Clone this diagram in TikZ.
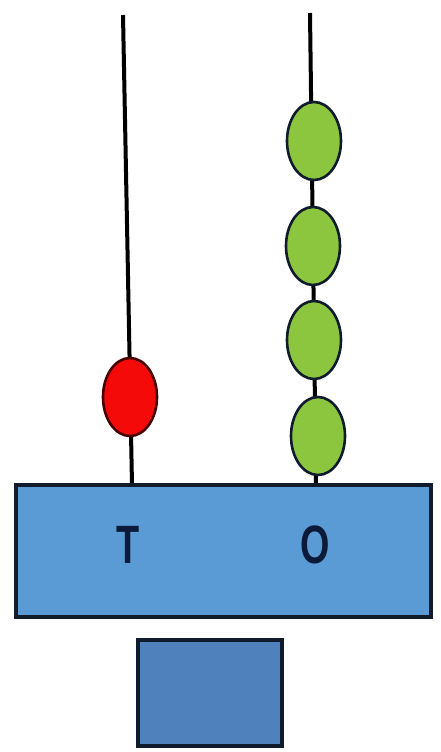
\documentclass[tikz,border=0pt]{standalone}
\usepackage{fontspec}
\setmainfont{Liberation Sans}
\usetikzlibrary{shapes.geometric}
\definecolor{boxblue}{HTML}{5B9BD5}
\definecolor{smallblue}{HTML}{4F81BD}
\definecolor{edge}{HTML}{101C2C}
\definecolor{beadgreen}{HTML}{8CC63F}
\definecolor{beadred}{HTML}{F50A0A}
\definecolor{labelcol}{HTML}{0A1A38}
\tikzset{
  rod/.style={line width=4pt, draw=black},
  bead/.style={ellipse, draw=edge, line width=2.6pt, minimum width=54pt, minimum height=78pt, inner sep=0pt},
  greenbead/.style={bead, fill=beadgreen},
  redbead/.style={bead, fill=beadred, draw=black!70!red},
  basebox/.style={draw=edge, line width=4.5pt},
  digit/.style={font=\bfseries\fontsize{54}{54}\selectfont, text=labelcol, inner sep=0pt}
}
\begin{document}
\begin{tikzpicture}[x=1pt,y=-1pt]
\useasboundingbox (0,0) rectangle (440,752);
\fill[white] (0,0) rectangle (440,752);
% rods
\coordinate (lt) at (123,15);
\coordinate (lb) at (132,485);
\coordinate (rt) at (310,13);
\coordinate (rb) at (316,485);
\draw[rod] (lt) -- (lb);
\draw[rod] (rt) -- (rb);
% beads
\node[redbead] (r1) at (130,397) {};
\node[greenbead] (g1) at (314,141) {};
\node[greenbead] (g2) at (313,246) {};
\node[greenbead] (g3) at (314,340) {};
\node[greenbead] (g4) at (318,436) {};
% base
\draw[basebox, fill=boxblue] (16,485) rectangle (431,617);
\node[digit] (T) at (128,545) {\scalebox{0.7}[1]{T}};
\node[digit] (O) at (315,545) {\scalebox{0.7}[1]{O}};
\draw[basebox, line width=4pt, fill=smallblue] (138,640) rectangle (282,746);
\end{tikzpicture}
\end{document}
